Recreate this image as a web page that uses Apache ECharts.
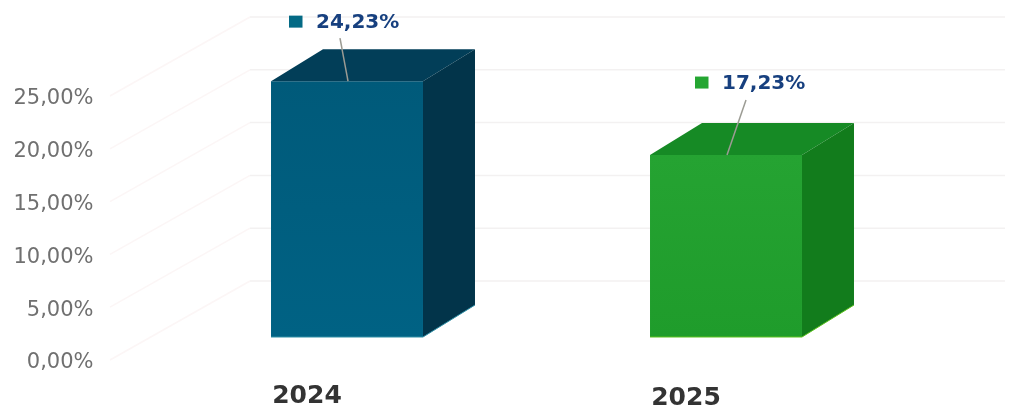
<!DOCTYPE html>
<html>
<head>
<meta charset="utf-8">
<style>html,body{margin:0;padding:0;background:#fff}#chart{width:1013px;height:407px}</style>
<script src="https://cdn.jsdelivr.net/npm/echarts@6/dist/echarts.min.js"></script>
</head>
<body>
<div id="chart"></div>
<script>
// Share of the total per year, in percent
const years = ['2024', '2025'];
const shares = [24.23, 17.23];
const wallTicks = [0, 5, 10, 15, 20, 25];

// Face colours for each box: front gradient, top, side, lit lower edge
const palette = [
  { front: ['#005a7a', '#006284'], top: '#023e58', side: '#02344a', key: '#046a85', edge: '#2f8fa6' },
  { front: ['#25a332', '#1f9c2b'], top: '#168a25', side: '#127c1c', key: '#25a632', edge: '#5cc21e' }
];
// Where each callout sits relative to the top centre of its box
const callouts = [
  { dx: -31, dy: -58, lineX: -7, lineY: -43, footX: 1 },
  { dx: -4, dy: -71, lineX: 20, lineY: -55, footX: 1 }
];

const BOX_RATIO = 0.401;   // front face width as a share of the category band
const DEPTH_X = 52, DEPTH_Y = -32;
const FLOOR_LIFT = -23;    // boxes stand on the floor, above the axis baseline
const WALL_X = 140, WALL_Y = -79;
const WALL_LEFT = -47.5, WALL_END = 1005;

const pct = v => v.toFixed(2).replace('.', ',') + '%';

function renderWall(params, api) {
  const y = api.coord([0, api.value(0)])[1];
  const x0 = params.coordSys.x + WALL_LEFT;
  const bx = x0 + WALL_X, by = y + WALL_Y;
  return {
    type: 'group',
    children: [
      { type: 'line', shape: { x1: x0, y1: y, x2: bx, y2: by },
        style: { stroke: '#fcf6f6', lineWidth: 1.5 } },
      { type: 'line', shape: { x1: bx, y1: by, x2: WALL_END, y2: by },
        style: { stroke: '#f3f1f1', lineWidth: 1.5 } }
    ]
  };
}

function renderBox(params, api) {
  const i = api.value(0), v = api.value(1);
  const top = api.coord([i, v]), base = api.coord([i, 0]);
  const w = api.size([1, 0])[0] * BOX_RATIO;
  const cx = top[0], l = cx - w / 2, r = cx + w / 2;
  const yt = top[1] + FLOOR_LIFT, yb = base[1] + FLOOR_LIFT;
  const c = palette[i], o = callouts[i];
  const tx = cx + o.dx, ty = yt + o.dy;
  return {
    type: 'group',
    children: [
      { type: 'rect', shape: { x: l, y: yt, width: w, height: yb - yt },
        style: { fill: { type: 'linear', x: 0, y: 0, x2: 0, y2: 1, colorStops: [
          { offset: 0, color: c.front[0] }, { offset: 1, color: c.front[1] } ] } } },
      { type: 'polygon', shape: { points: [[l, yt], [l + DEPTH_X, yt + DEPTH_Y], [r + DEPTH_X, yt + DEPTH_Y], [r, yt]] },
        style: { fill: c.top } },
      { type: 'polygon', shape: { points: [[r, yt], [r + DEPTH_X, yt + DEPTH_Y], [r + DEPTH_X, yb + DEPTH_Y], [r, yb]] },
        style: { fill: c.side } },
      { type: 'polyline', shape: { points: [[l, yb], [r, yb], [r + DEPTH_X, yb + DEPTH_Y]] },
        style: { stroke: c.edge, lineWidth: 1, fill: null } },
      { type: 'line', shape: { x1: cx + o.lineX, y1: yt + o.lineY, x2: cx + o.footX, y2: yt },
        style: { stroke: '#9c9c94', lineWidth: 1.5 } },
      { type: 'rect', shape: { x: tx - 27, y: ty - 7.5, width: 13.5, height: 12 },
        style: { fill: c.key } },
      { type: 'text', x: tx, y: ty,
        style: { text: pct(v), fill: '#17407f', font: 'bold 20px "DejaVu Sans"',
                 textAlign: 'left', textVerticalAlign: 'middle' } }
    ]
  };
}

const yearFont = { color: '#333333', fontFamily: 'DejaVu Sans', fontWeight: 'bold', fontSize: 25 };
const tickFont = { color: '#707070', fontFamily: 'DejaVu Sans', fontSize: 21 };

const chart = echarts.init(document.getElementById('chart'), null, { renderer: 'canvas' });
chart.setOption({
  animation: false,
  backgroundColor: '#ffffff',
  grid: { left: 157.5, right: 97.5, top: 96, bottom: 47, outerBoundsMode: 'none' },
  xAxis: {
    type: 'category',
    data: years,
    axisLine: { show: false },
    axisTick: { show: false },
    axisLabel: {
      ...yearFont,
      margin: 24,
      padding: [0, 80, 0, 0],
      formatter: (v, i) => '{y' + i + '|' + v + '}',
      rich: {
        y0: { ...yearFont },
        y1: { ...yearFont, padding: [2, 0, 0, 0] }
      }
    }
  },
  yAxis: {
    type: 'value',
    min: 0,
    max: 25,
    interval: 5,
    axisLine: { show: false },
    axisTick: { show: false },
    splitLine: { show: false },
    axisLabel: {
      ...tickFont,
      margin: 64,
      formatter: v => '{t|' + pct(v) + '}',
      rich: { t: { ...tickFont, padding: [6, 0, 0, 0] } }
    }
  },
  series: [
    { type: 'custom', name: 'wall', silent: true, z: 1, renderItem: renderWall,
      encode: { y: 0 }, data: wallTicks.map(t => [t]) },
    { type: 'custom', name: 'share', silent: true, z: 2, renderItem: renderBox,
      encode: { x: 0, y: 1 }, data: shares.map((s, i) => [i, s]) }
  ]
});
</script>
</body>
</html>
